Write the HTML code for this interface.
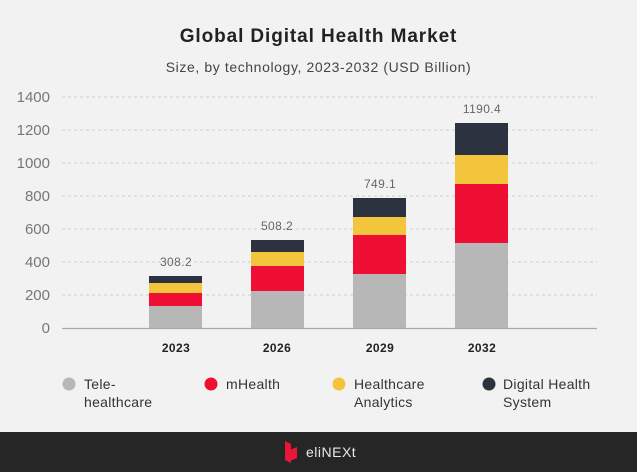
<!DOCTYPE html>
<html><head><style>
body{margin:0;width:637px;height:472px;background:#f2f2f2;font-family:"Liberation Sans",sans-serif;overflow:hidden;position:relative}
.t{position:absolute;white-space:nowrap}
</style></head><body>
<div class="t" style="left:0;width:637px;text-align:center;top:26px;font-size:19px;font-weight:bold;color:#222;letter-spacing:0.9px">Global Digital Health Market</div>
<div class="t" style="left:0;width:637px;text-align:center;top:59px;font-size:14px;color:#444;letter-spacing:0.6px">Size, by technology, 2023-2032 (USD Billion)</div>
<svg width="637" height="472" style="position:absolute;left:0;top:0" font-family="Liberation Sans, sans-serif">
<g stroke="#cfcfcf" stroke-dasharray="3,3" stroke-width="1">
<line x1="62" x2="597" y1="97" y2="97"/><line x1="62" x2="597" y1="130" y2="130"/><line x1="62" x2="597" y1="163" y2="163"/><line x1="62" x2="597" y1="196" y2="196"/><line x1="62" x2="597" y1="229" y2="229"/><line x1="62" x2="597" y1="262" y2="262"/><line x1="62" x2="597" y1="295" y2="295"/>
</g>
<g font-size="15" fill="#777" text-anchor="end">
<text x="50" y="102">1400</text><text x="50" y="135">1200</text><text x="50" y="168">1000</text><text x="50" y="201">800</text><text x="50" y="234">600</text><text x="50" y="267">400</text><text x="50" y="300">200</text><text x="50" y="333">0</text>
</g>
<g>
<rect x="149" y="276" width="53" height="7" fill="#2c323f"/><rect x="149" y="283" width="53" height="10" fill="#f3c53c"/><rect x="149" y="293" width="53" height="13" fill="#ef0e34"/><rect x="149" y="306" width="53" height="22" fill="#b7b7b7"/>
<rect x="251" y="240" width="53" height="12" fill="#2c323f"/><rect x="251" y="252" width="53" height="14" fill="#f3c53c"/><rect x="251" y="266" width="53" height="25" fill="#ef0e34"/><rect x="251" y="291" width="53" height="37" fill="#b7b7b7"/>
<rect x="353" y="198" width="53" height="19" fill="#2c323f"/><rect x="353" y="217" width="53" height="18" fill="#f3c53c"/><rect x="353" y="235" width="53" height="39" fill="#ef0e34"/><rect x="353" y="274" width="53" height="54" fill="#b7b7b7"/>
<rect x="455" y="123" width="53" height="32" fill="#2c323f"/><rect x="455" y="155" width="53" height="29" fill="#f3c53c"/><rect x="455" y="184" width="53" height="59" fill="#ef0e34"/><rect x="455" y="243" width="53" height="85" fill="#b7b7b7"/>
</g>
<line x1="62" x2="597" y1="328.5" y2="328.5" stroke="#aaa" stroke-width="1.3"/>
<g font-size="12" fill="#666" text-anchor="middle" letter-spacing="0.4">
<text x="176" y="266">308.2</text><text x="277" y="230">508.2</text><text x="380" y="188">749.1</text><text x="482" y="113">1190.4</text>
</g>
<g font-size="12" fill="#222" font-weight="bold" text-anchor="middle" letter-spacing="0.4">
<text x="176" y="352">2023</text><text x="277" y="352">2026</text><text x="380" y="352">2029</text><text x="482" y="352">2032</text>
</g>
<circle cx="69" cy="384" r="6.5" fill="#b7b7b7"/>
<circle cx="211" cy="384" r="6.5" fill="#ef0e34"/>
<circle cx="339" cy="384" r="6.5" fill="#f3c53c"/>
<circle cx="489" cy="384" r="6.5" fill="#2c323f"/>
<g font-size="14" fill="#333" letter-spacing="0.3">
<text x="84" y="389">Tele-</text><text x="84" y="407">healthcare</text>
<text x="226" y="389">mHealth</text>
<text x="354" y="389">Healthcare</text><text x="354" y="407">Analytics</text>
<text x="503" y="389">Digital Health</text><text x="503" y="407">System</text>
</g>
<rect x="0" y="432" width="637" height="40" fill="#262626"/>
<path d="M285 441 L291 444 L291 463 L285 460 Z" fill="#e8173a"/>
<path d="M290 450 L297 447 L297 458 L290 461 Z" fill="#e8173a"/>
<text x="306" y="457" font-size="14" fill="#e8e8e8" letter-spacing="0.5">eliNEXt</text>
</svg>
</body></html>
